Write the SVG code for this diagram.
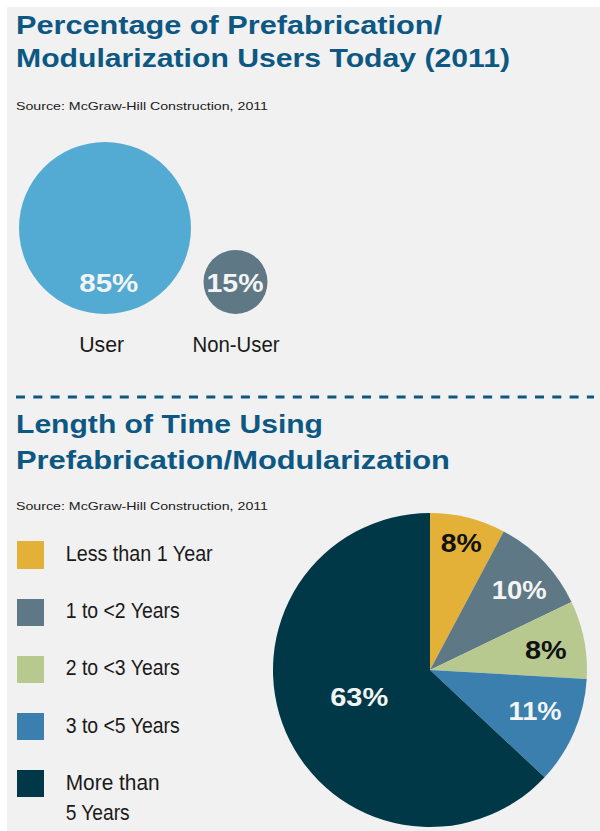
<svg xmlns="http://www.w3.org/2000/svg" width="600" height="831" viewBox="0 0 600 831">
  <style>
    .title { font-family: "Liberation Sans", Arial, sans-serif; font-weight: bold; font-size: 26px; fill: #0d5883; }
    .source { font-family: "Liberation Sans", Arial, sans-serif; font-size: 11.5px; fill: #1a1a1a; }
    .label { font-family: "Liberation Sans", Arial, sans-serif; font-size: 22px; fill: #1a1a1a; }
    .pct { font-family: "Liberation Sans", Arial, sans-serif; font-weight: bold; font-size: 25px; }
    .light { fill: #f4f4f4; }
    .dark { fill: #111111; }
  </style>

  <!-- page -->
  <rect x="0" y="0" width="600" height="831" fill="#ffffff"/>
  <rect x="7" y="7" width="593" height="824" fill="#f1f1f1"/>

  <!-- section 1: users today -->
  <g id="title-users">
    <text class="title" x="16" y="34" textLength="426" lengthAdjust="spacingAndGlyphs">Percentage of Prefabrication/</text>
    <text class="title" x="16" y="67" textLength="494" lengthAdjust="spacingAndGlyphs">Modularization Users Today (2011)</text>
    <text class="source" x="16" y="110" textLength="252" lengthAdjust="spacingAndGlyphs">Source: McGraw-Hill Construction, 2011</text>
  </g>

  <g id="bubble-user">
    <circle cx="105" cy="228" r="86" fill="#53abd3"/>
    <text class="pct light" x="108.8" y="291.5" text-anchor="middle" textLength="59" lengthAdjust="spacingAndGlyphs">85%</text>
    <text class="label" x="101.7" y="351.5" text-anchor="middle" textLength="45" lengthAdjust="spacingAndGlyphs">User</text>
  </g>

  <g id="bubble-nonuser">
    <circle cx="235.5" cy="282" r="32" fill="#5e7886"/>
    <text class="pct light" x="235" y="291.5" text-anchor="middle" textLength="57" lengthAdjust="spacingAndGlyphs">15%</text>
    <text class="label" x="236" y="351.5" text-anchor="middle" textLength="87" lengthAdjust="spacingAndGlyphs">Non-User</text>
  </g>

  <!-- divider -->
  <line x1="16" y1="397" x2="594" y2="397" stroke="#0d5883" stroke-width="3" stroke-dasharray="9 8.3"/>

  <!-- section 2: length of time -->
  <g id="title-length">
    <text class="title" x="16" y="433" textLength="307" lengthAdjust="spacingAndGlyphs">Length of Time Using</text>
    <text class="title" x="16" y="469" textLength="434" lengthAdjust="spacingAndGlyphs">Prefabrication/Modularization</text>
    <text class="source" x="16" y="510" textLength="252" lengthAdjust="spacingAndGlyphs">Source: McGraw-Hill Construction, 2011</text>
  </g>

  <g id="legend">
    <g id="legend-lt1">
      <rect x="17" y="541" width="27" height="28" fill="#e3b038"/>
      <text class="label" x="65.7" y="561" textLength="147" lengthAdjust="spacingAndGlyphs">Less than 1 Year</text>
    </g>
    <g id="legend-1to2">
      <rect x="17" y="599" width="27" height="27" fill="#5f7886"/>
      <text class="label" x="65.7" y="617.5" textLength="114" lengthAdjust="spacingAndGlyphs">1 to &lt;2 Years</text>
    </g>
    <g id="legend-2to3">
      <rect x="17" y="656" width="27" height="27" fill="#b8c98f"/>
      <text class="label" x="65.7" y="675" textLength="114" lengthAdjust="spacingAndGlyphs">2 to &lt;3 Years</text>
    </g>
    <g id="legend-3to5">
      <rect x="17" y="713" width="27" height="27" fill="#3a7fae"/>
      <text class="label" x="65.7" y="732.5" textLength="114" lengthAdjust="spacingAndGlyphs">3 to &lt;5 Years</text>
    </g>
    <g id="legend-gt5">
      <rect x="17" y="770" width="27" height="27" fill="#003848"/>
      <text class="label" x="65.7" y="790" textLength="94" lengthAdjust="spacingAndGlyphs">More than</text>
      <text class="label" x="65.7" y="820" textLength="64" lengthAdjust="spacingAndGlyphs">5 Years</text>
    </g>
  </g>

  <g id="pie">
    <g id="slice-lt1">
      <path d="M430,670 L430,513 A157,157 0 0 1 503.7,531.4 Z" fill="#e3b038"/>
      <text class="pct dark" x="461.2" y="552.3" text-anchor="middle" textLength="41" lengthAdjust="spacingAndGlyphs">8%</text>
    </g>
    <g id="slice-1to2">
      <path d="M430,670 L503.7,531.4 A157,157 0 0 1 571.5,601.9 Z" fill="#5f7886"/>
      <text class="pct light" x="519.2" y="599" text-anchor="middle" textLength="55" lengthAdjust="spacingAndGlyphs">10%</text>
    </g>
    <g id="slice-2to3">
      <path d="M430,670 L571.5,601.9 A157,157 0 0 1 586.7,679 Z" fill="#b8c98f"/>
      <text class="pct dark" x="545.8" y="659.3" text-anchor="middle" textLength="41.7" lengthAdjust="spacingAndGlyphs">8%</text>
    </g>
    <g id="slice-3to5">
      <path d="M430,670 L586.7,679 A157,157 0 0 1 544.6,777.3 Z" fill="#3a7fae"/>
      <text class="pct light" x="535" y="720" text-anchor="middle" textLength="53" lengthAdjust="spacingAndGlyphs">11%</text>
    </g>
    <g id="slice-gt5">
      <path d="M430,670 L544.6,777.3 A157,157 0 1 1 430,513 Z" fill="#003848"/>
      <text class="pct light" x="359.2" y="706" text-anchor="middle" textLength="58" lengthAdjust="spacingAndGlyphs">63%</text>
    </g>
  </g>
</svg>
